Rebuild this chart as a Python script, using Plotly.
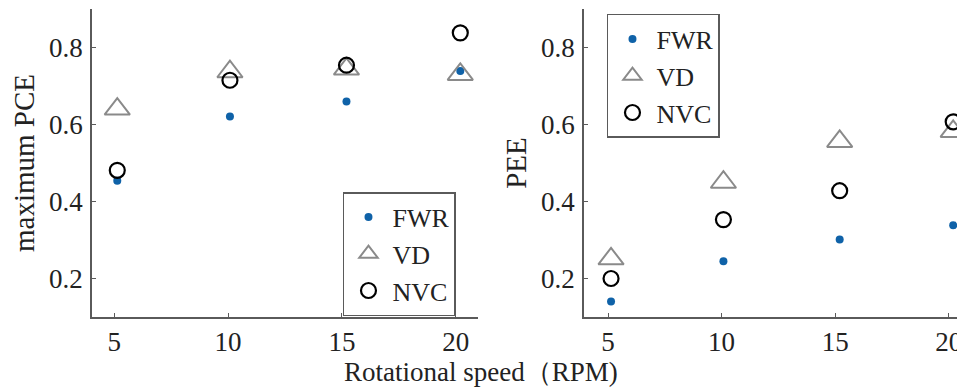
import plotly.graph_objects as go

speed = [5.13, 10.08, 15.2, 20.2]
tick_vals = [5, 10, 15, 20]
y_ticks = [0.2, 0.4, 0.6, 0.8]

pce_fwr = [0.454, 0.621, 0.660, 0.739]
pce_vd = [0.640, 0.737, 0.744, 0.730]
pce_nvc = [0.481, 0.715, 0.754, 0.838]

pee_fwr = [0.140, 0.245, 0.301, 0.338]
pee_vd = [0.251, 0.450, 0.556, 0.582]
pee_nvc = [0.200, 0.353, 0.428, 0.607]

FONT = "Liberation Serif"
BLUE = "#0f62a8"
GRAY = "#8a8a8a"
AXC = "#5a5a5a"

fig = go.Figure()

def add_panel(xa, ya, fwr, vd, nvc, legend):
    fig.add_trace(go.Scatter(x=speed, y=fwr, mode="markers", name="FWR",
                             xaxis=xa, yaxis=ya, legend=legend,
                             marker=dict(symbol="circle", size=8, color=BLUE)))
    fig.add_trace(go.Scatter(x=speed, y=vd, mode="markers", name="VD",
                             xaxis=xa, yaxis=ya, legend=legend,
                             marker=dict(symbol="triangle-up-open", size=22,
                                         color=GRAY, line=dict(width=2, color=GRAY))))
    fig.add_trace(go.Scatter(x=speed, y=nvc, mode="markers", name="NVC",
                             xaxis=xa, yaxis=ya, legend=legend,
                             marker=dict(symbol="circle-open", size=15,
                                         color="black", line=dict(width=2.2, color="black"))))

add_panel("x", "y", pce_fwr, pce_vd, pce_nvc, "legend")
add_panel("x2", "y2", pee_fwr, pee_vd, pee_nvc, "legend2")

axis_common = dict(showline=True, linecolor=AXC, linewidth=1.5, ticks="inside",
                   ticklen=4, tickcolor=AXC, tickwidth=1.2, showgrid=False,
                   zeroline=False, tickfont=dict(family=FONT, size=27, color="#222"),
                   mirror=False, automargin=False)

leg_common = dict(xanchor="left", yanchor="top", bordercolor=AXC, borderwidth=1.5,
                  bgcolor="white", font=dict(family=FONT, size=26, color="#222"),
                  tracegroupgap=0, itemwidth=38)

fig.update_layout(
    width=957, height=379,
    margin=dict(l=84, r=0, t=1, b=70, autoexpand=False),
    paper_bgcolor="white", plot_bgcolor="white",
    font=dict(family=FONT, color="#222"),
    showlegend=True,
    xaxis=dict(domain=[0, 0.4422], range=[4.02, 20.98], tickvals=tick_vals,
               ticklabelstandoff=0, anchor="y", **axis_common),
    yaxis=dict(domain=[0, 1], range=[0.1, 0.9], tickvals=y_ticks,
               ticklabelstandoff=2, anchor="x",
               title=dict(text="maximum PCE", font=dict(family=FONT, size=29, color="#222"),
                          standoff=16),
               **axis_common),
    xaxis2=dict(domain=[0.5636, 1], range=[3.94, 20.72], tickvals=tick_vals,
                ticklabelstandoff=0, anchor="y2", **axis_common),
    yaxis2=dict(domain=[0, 1], range=[0.1, 0.9], tickvals=y_ticks,
                ticklabelstandoff=2, anchor="x2",
                title=dict(text="PEE", font=dict(family=FONT, size=29, color="#222"),
                           standoff=6),
                **axis_common),
    legend=dict(x=0.2875, y=0.4058, **leg_common),
    legend2=dict(x=0.5899, y=0.9838, **leg_common),
    annotations=[dict(text="Rotational speed（RPM)", xref="paper", yref="paper",
                      x=0.4456, y=-0.18, xanchor="center", yanchor="middle",
                      showarrow=False, font=dict(family=FONT, size=27, color="#222"))],
)

fig.write_html("out.html")
